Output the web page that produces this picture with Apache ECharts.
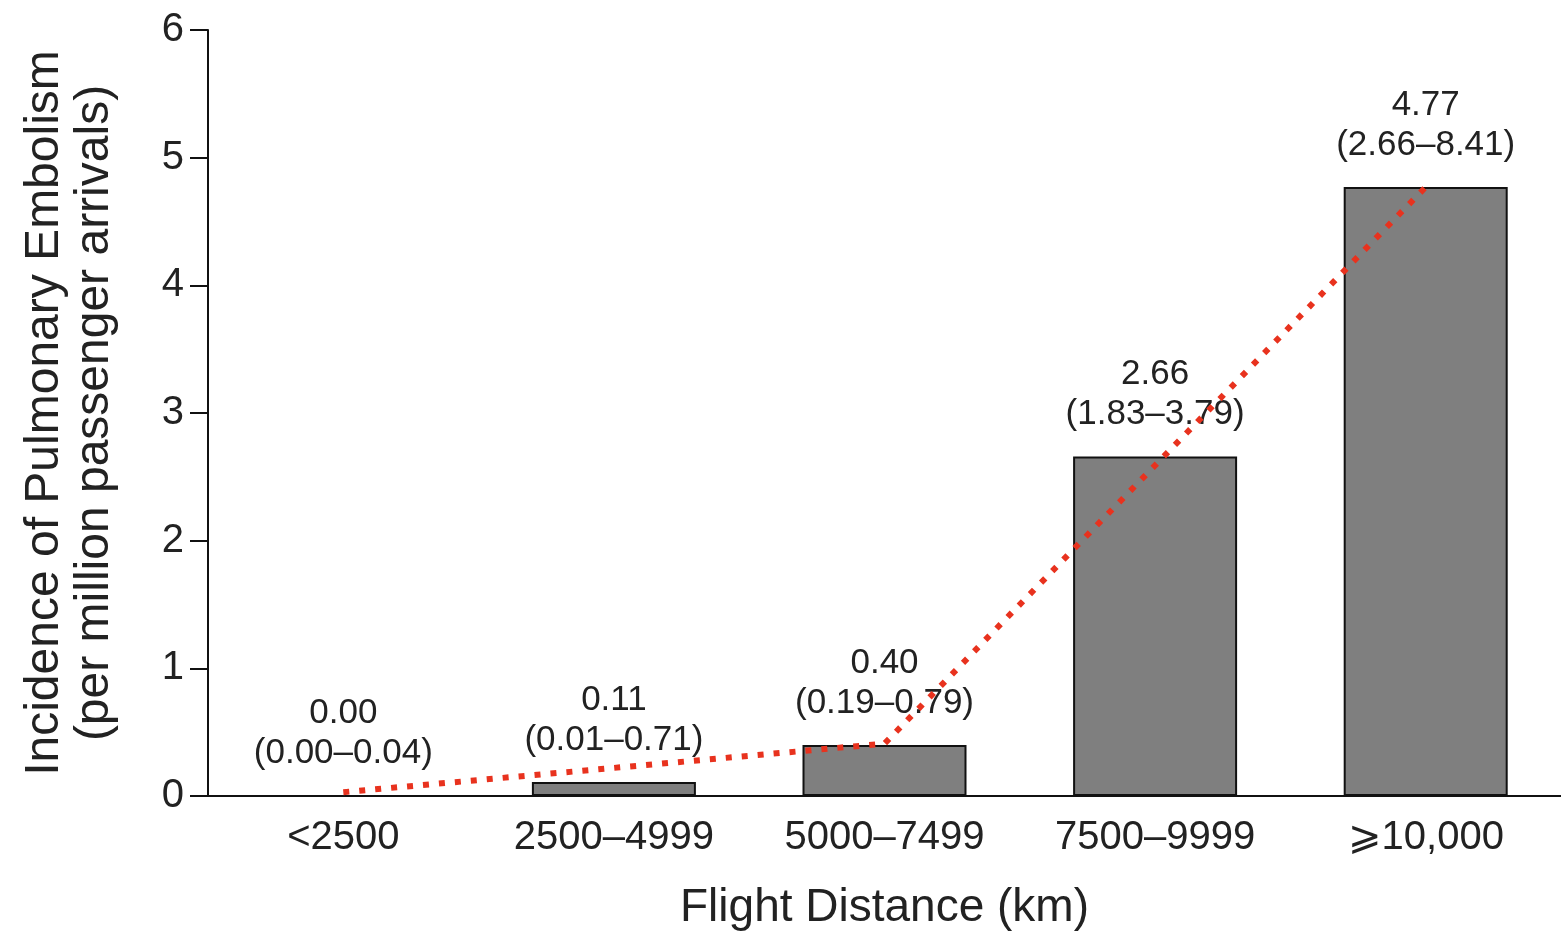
<!DOCTYPE html>
<html>
<head>
<meta charset="utf-8">
<script src="https://cdn.jsdelivr.net/npm/echarts@6/dist/echarts.min.js"></script>
<style>
  html, body { margin: 0; padding: 0; background: #fff; }
  #chart { width: 1561px; height: 936px; }
</style>
</head>
<body>
<div id="chart"></div>
<script>
const categories = ['<2500', '2500–4999', '5000–7499', '7500–9999', '⩾10,000'];
const incidence = [0.00, 0.11, 0.40, 2.66, 4.77];
const ciLow = ['0.00', '0.01', '0.19', '1.83', '2.66'];
const ciHigh = ['0.04', '0.71', '0.79', '3.79', '8.41'];
// dotted trend line (gaps are bridged)
const trend = [0.03, null, 0.41, null, 4.77];
const yTicks = [0, 1, 2, 3, 4, 5, 6];

const chart = echarts.init(document.getElementById('chart'));
const font = 'Liberation Sans, Arial, sans-serif';

const option = {
  animation: false,
  grid: { left: 208, right: -4, top: 30, bottom: 133 },
  xAxis: {
    type: 'category',
    data: categories,
    axisTick: { show: false },
    axisLine: { lineStyle: { color: '#111', width: 2 } },
    axisLabel: { color: '#222', fontSize: 40, fontFamily: font, margin: 22 },
    name: 'Flight Distance (km)',
    nameLocation: 'middle',
    nameGap: 89,
    nameTextStyle: { color: '#222', fontSize: 46, fontFamily: font }
  },
  yAxis: {
    type: 'value',
    min: yTicks[0],
    max: yTicks[yTicks.length - 1],
    interval: 1,
    splitLine: { show: false },
    axisLine: { show: true, lineStyle: { color: '#111', width: 2 } },
    axisTick: { show: true, length: 18, lineStyle: { color: '#111', width: 2 } },
    axisLabel: { color: '#222', fontSize: 40, fontFamily: font, margin: 24 },
    name: 'Incidence of Pulmonary Embolism\n(per million passenger arrivals)',
    nameLocation: 'middle',
    nameGap: 88,
    nameTextStyle: { color: '#222', fontSize: 48, fontFamily: font, lineHeight: 50 }
  },
  series: [
    {
      name: 'incidence',
      type: 'bar',
      barWidth: 164,
      data: incidence,
      itemStyle: { color: '#7f7f7f', borderColor: '#111', borderWidth: 2 },
      label: {
        show: true,
        position: 'top',
        distance: 22,
        color: '#222',
        fontSize: 35,
        fontFamily: font,
        lineHeight: 40,
        formatter: function (p) {
          const i = p.dataIndex;
          return incidence[i].toFixed(2) + '\n(' + ciLow[i] + '–' + ciHigh[i] + ')';
        }
      },
      z: 2
    },
    {
      name: 'trend',
      type: 'line',
      data: trend,
      connectNulls: true,
      symbol: 'none',
      lineStyle: { color: '#e8321e', width: 6, type: [6, 10] },
      z: 5
    }
  ]
};

chart.setOption(option);
</script>
</body>
</html>
